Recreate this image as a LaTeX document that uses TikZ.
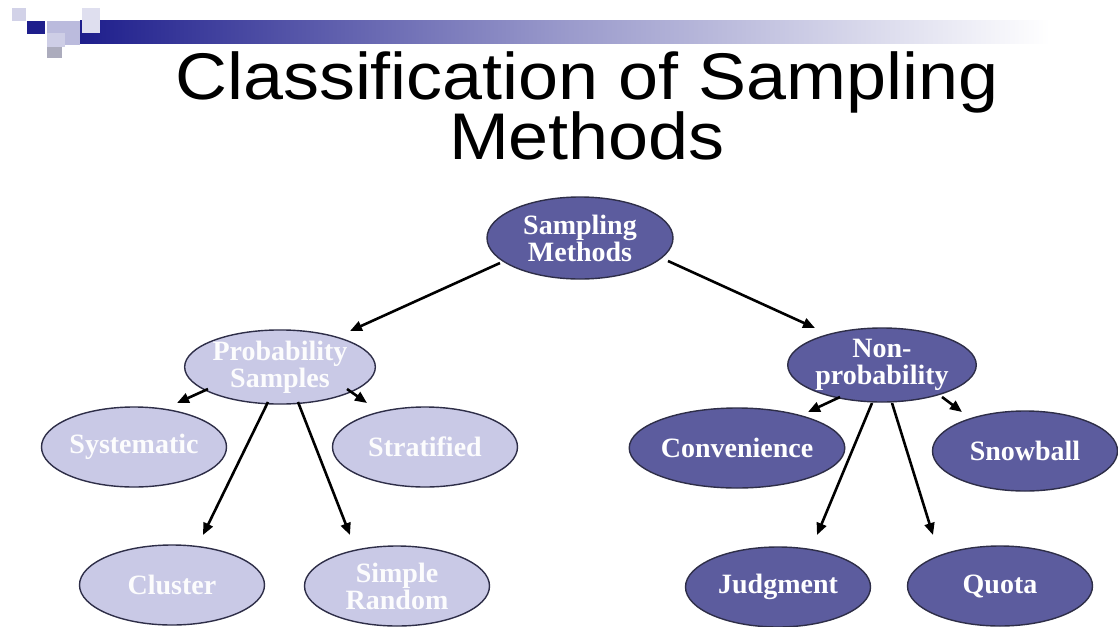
\documentclass[tikz,border=0pt]{standalone}
\usepackage{fontspec}
\setmainfont{Liberation Serif}
\newfontfamily\titlefont{Liberation Sans}
\usetikzlibrary{shapes.geometric,arrows.meta,calc}
\definecolor{darkfill}{HTML}{5C5C9E}
\definecolor{lightfill}{HTML}{C9C9E6}
\definecolor{edgecol}{HTML}{2E2E48}
\definecolor{navy}{HTML}{1E1E8C}
\tikzset{
  ell/.style={ellipse, draw=edgecol, line width=1.4pt, inner sep=0pt,
    minimum width=185pt, minimum height=80pt, text=white, align=center,
    font=\fontsize{28}{27}\selectfont\bfseries},
  darkell/.style={ell, fill=darkfill},
  lightell/.style={ell, fill=lightfill, text=white!94!lightfill},
  arr/.style={line width=2.6pt, -{Triangle[length=12pt,width=10pt]}},
  titletext/.style={font=\titlefont\fontsize{66}{56}\selectfont, align=center, anchor=base, xscale=1.09, inner sep=0pt},
}
\begin{document}
\begin{tikzpicture}[x=1pt,y=-1pt]
\useasboundingbox[fill=white] (0,0) rectangle (1118,626);
% header decoration
\shade[left color=navy, right color=white, middle color=navy!45!white] (80,21) rectangle (1050,44);
\fill[white!80!navy] (12,8) rectangle (26,21);
\fill[navy] (27,21) rectangle (45,34);
\fill[white!70!navy] (47,21) rectangle (80,45);
\fill[white!86!navy] (82,8) rectangle (100,33);
\fill[white!78!navy] (47,33) rectangle (65,47);
\fill[gray!45!white!85!navy] (47,47) rectangle (62,58);
% title
\node[titletext] (title) at (587,159) {Classification of Sampling\\[-3pt]Methods};
% nodes
\node[darkell, minimum height=82pt, minimum width=186pt] (sm) at (580,238) {Sampling\\Methods};
\node[lightell, minimum height=72pt, minimum width=186pt] (ps) at (280,367) {Probability\\Samples};
\node[darkell, minimum height=74pt, minimum width=184pt] (np) at (882,365) {Non-\\probability};
\node[lightell] (sys) at (134,447) {Systematic};
\node[lightell] (str) at (425,447) {Stratified};
\node[lightell] (clu) at (172,585) {Cluster};
\node[lightell] (sr) at (397,586) {Simple\\Random};
\node[darkell] (con) at (737,448) {Convenience};
\node[darkell] (snow) at (1025,451) {Snowball};
\node[darkell] (jud) at (778,587) {Judgment};
\node[darkell] (quo) at (1000,586) {Quota};
% connectors
\draw[arr] ($(sm)+(-80,25)$) -- ($(ps)+(70,-36)$);
\draw[arr] ($(sm)+(88,23)$) -- ($(np)+(-67,-37)$);
\draw[arr] ($(ps)+(-72,22)$) -- ($(sys)+(43,-44)$);
\draw[arr] ($(ps)+(67,22)$) -- ($(str)+(-58,-44)$);
\draw[arr] ($(ps)+(-12,35)$) -- ($(clu)+(31,-50)$);
\draw[arr] ($(ps)+(18,35)$) -- ($(sr)+(-47,-51)$);
\draw[arr] ($(np)+(-42,32)$) -- ($(con)+(71,-36)$);
\draw[arr] ($(np)+(60,32)$) -- ($(snow)+(-63,-39)$);
\draw[arr] ($(np)+(-10,38)$) -- ($(jud)+(39,-52)$);
\draw[arr] ($(np)+(10,38)$) -- ($(quo)+(-67,-51)$);
\end{tikzpicture}
\end{document}
